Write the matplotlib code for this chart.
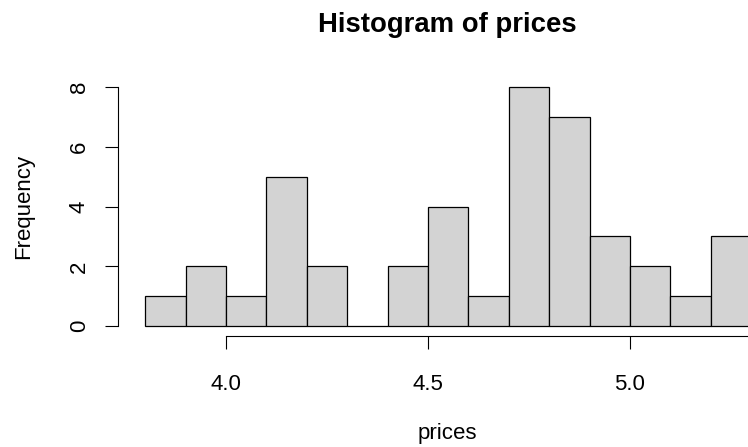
import matplotlib
matplotlib.use("Agg")
import matplotlib.pyplot as plt

plt.rcParams['font.family'] = ['Liberation Sans', 'DejaVu Sans']

# Histogram bins (breaks) and counts
bin_edges = [3.8, 3.9, 4.0, 4.1, 4.2, 4.3, 4.4, 4.5, 4.6, 4.7, 4.8, 4.9, 5.0, 5.1, 5.2, 5.3]
counts = [1, 2, 1, 5, 2, 0, 2, 4, 1, 8, 7, 3, 2, 1, 3]
x_ticks = [4.0, 4.5, 5.0, 5.5]
x_tick_labels = ["4.0", "4.5", "5.0", "5.5"]
y_ticks = [0, 2, 4, 6, 8]
y_tick_labels = ["0", "2", "4", "6", "8"]
title = "Histogram of prices"
x_label = "prices"
y_label = "Frequency"

W, H = 748, 447
fig = plt.figure(figsize=(W / 100, H / 100), dpi=100)

# plot region in pixels (extends past the right edge, as in the reference)
left_px, right_px = 118, 772
top_px, bottom_px = 77.4, 335.7
ax = fig.add_axes([left_px / W, 1 - bottom_px / H,
                   (right_px - left_px) / W, (bottom_px - top_px) / H])

px_per_unit = 404.0
x0 = 3.7327
ax.set_xlim(x0, x0 + (right_px - left_px) / px_per_unit)
ymax = max(counts)
ax.set_ylim(-0.04 * ymax, ymax * 1.04)

widths = [bin_edges[i + 1] - bin_edges[i] for i in range(len(counts))]
ax.bar(bin_edges[:-1], counts, width=widths, align='edge',
       color='#D3D3D3', edgecolor='black', linewidth=0.9)

for s in ['top', 'right']:
    ax.spines[s].set_visible(False)
ax.spines['left'].set_bounds(y_ticks[0], y_ticks[-1])
ax.spines['bottom'].set_bounds(x_ticks[0], x_ticks[-1])
ax.spines['left'].set_linewidth(0.8)
ax.spines['bottom'].set_linewidth(0.8)

ax.set_xticks(x_ticks[:3])
ax.set_xticklabels(x_tick_labels[:3])
ax.set_yticks(y_ticks)
ax.set_yticklabels(y_tick_labels)
ax.tick_params(axis='both', direction='out', length=9.4, width=0.8,
               labelsize=16, colors='black')
ax.tick_params(axis='x', pad=18.3)
ax.tick_params(axis='y', pad=11)
for lab in ax.get_yticklabels():
    lab.set_rotation(90)
    lab.set_va('center')

cx = 447 / W
fig.text(cx, 1 - 25.5 / H, title, ha='center', va='center',
         fontsize=19.8, fontweight='bold')
fig.text(cx, 1 - 434 / H, x_label, ha='center', va='center', fontsize=16)
fig.text(24 / W, 1 - (top_px + bottom_px) / 2 / H, y_label, ha='center',
         va='center', rotation=90, fontsize=16)

fig.savefig("out.png", dpi=100)
